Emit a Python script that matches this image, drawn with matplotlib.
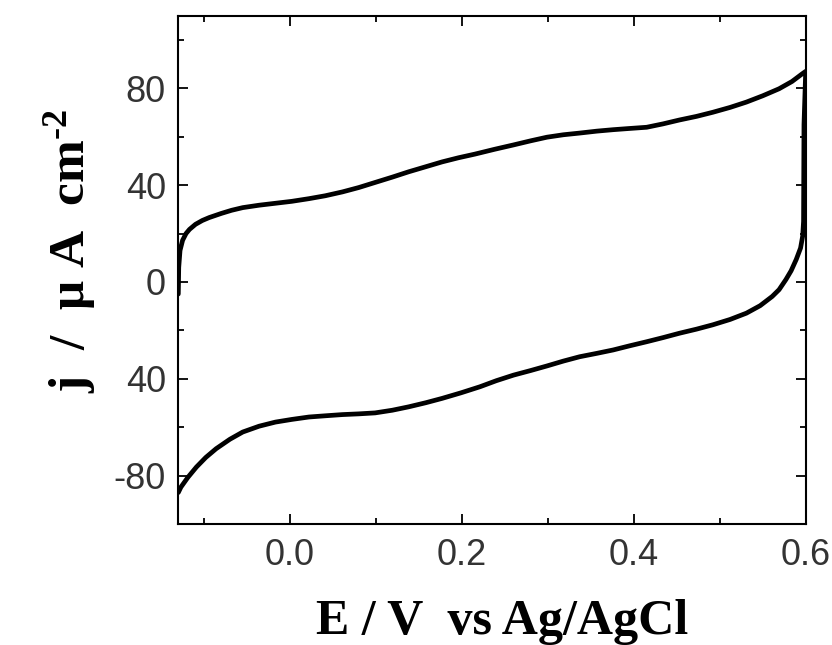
import matplotlib
matplotlib.use("Agg")
import matplotlib.pyplot as plt
from matplotlib.ticker import MultipleLocator, FixedLocator, FixedFormatter

plt.rcParams['mathtext.fontset'] = 'custom'
plt.rcParams['mathtext.rm'] = 'Liberation Serif:bold'
plt.rcParams['mathtext.bf'] = 'Liberation Serif:bold'
plt.rcParams['mathtext.it'] = 'Liberation Serif:bold'

# anodic sweep (upper branch), potential in V, current density in uA/cm2
e_fwd = [-0.130, -0.1295, -0.128, -0.125, -0.121, -0.117, -0.110, -0.102, -0.094,
         -0.080, -0.068, -0.055, -0.036, -0.017, 0.002, 0.022, 0.041, 0.061,
         0.080, 0.099, 0.119, 0.138, 0.158, 0.177, 0.196, 0.215, 0.238, 0.260,
         0.280, 0.299, 0.318, 0.337, 0.357, 0.376, 0.395, 0.415, 0.434, 0.453,
         0.473, 0.492, 0.512, 0.531, 0.550, 0.569, 0.584, 0.596, 0.600]
j_fwd = [-5, 6, 13, 17.2, 20.0, 21.7, 23.8, 25.4, 26.6,
         28.3, 29.6, 30.7, 31.7, 32.5, 33.3, 34.4, 35.6, 37.2,
         39.0, 41.1, 43.3, 45.5, 47.6, 49.6, 51.3, 52.8, 54.8, 56.6,
         58.3, 59.8, 60.8, 61.5, 62.3, 62.9, 63.4, 63.9, 65.3, 66.9,
         68.4, 70.1, 72.1, 74.3, 76.9, 79.8, 82.8, 86.0, 87.0]

# cathodic sweep (lower branch)
e_rev = [0.600, 0.598, 0.5975, 0.5965, 0.594, 0.589, 0.583, 0.577, 0.569,
         0.561, 0.547, 0.531, 0.512, 0.492, 0.473, 0.453, 0.434, 0.415,
         0.395, 0.376, 0.357, 0.337, 0.318, 0.299, 0.280, 0.260, 0.240,
         0.221, 0.199, 0.177, 0.158, 0.138, 0.119, 0.099, 0.080, 0.061,
         0.041, 0.022, 0.002, -0.017, -0.036, -0.055, -0.070, -0.086,
         -0.098, -0.109, -0.119, -0.127, -0.130]
j_rev = [87.0, 65.0, 25.0, 19.0, 14.0, 9.3, 4.6, 1.0, -3.2,
         -6.0, -9.8, -12.9, -15.5, -17.7, -19.5, -21.2, -23.0, -24.7,
         -26.4, -28.1, -29.5, -30.9, -32.7, -34.7, -36.6, -38.5, -40.8,
         -43.3, -45.8, -48.1, -49.9, -51.6, -53.0, -54.1, -54.5, -54.8,
         -55.3, -55.8, -56.8, -57.9, -59.6, -62.0, -65.0, -68.9,
         -72.5, -76.5, -80.8, -84.8, -87.0]

y_ticks = [-80, -40, 0, 40, 80]
y_tick_labels = ['-80', '40', '0', '40', '80']
x_ticks = [0.0, 0.2, 0.4, 0.6]
x_tick_labels = ['0.0', '0.2', '0.4', '0.6']

fig = plt.figure(figsize=(8.32, 6.45), dpi=100)
ax = fig.add_axes([0.2143, 0.1876, 0.7541, 0.7881])

ax.plot(e_fwd + e_rev, j_fwd + j_rev, color='black', lw=3.4,
        solid_joinstyle='round', solid_capstyle='round')

ax.set_xlim(-0.13, 0.6)
ax.set_ylim(-100, 110)

ax.xaxis.set_major_locator(FixedLocator(x_ticks))
ax.xaxis.set_major_formatter(FixedFormatter(x_tick_labels))
ax.xaxis.set_minor_locator(MultipleLocator(0.1))
ax.yaxis.set_major_locator(FixedLocator(y_ticks))
ax.yaxis.set_major_formatter(FixedFormatter(y_tick_labels))
ax.yaxis.set_minor_locator(MultipleLocator(20))

for s in ax.spines.values():
    s.set_linewidth(1.5)

ax.tick_params(which='both', direction='in', top=True, right=True, width=1.3)
ax.tick_params(which='major', length=7)
ax.tick_params(which='minor', length=4)
ax.tick_params(axis='both', which='major', labelsize=26, labelcolor='#333333')
ax.tick_params(axis='y', pad=9)
ax.tick_params(axis='x', pad=10)
for lab in ax.get_xticklabels() + ax.get_yticklabels():
    lab.set_family('Liberation Sans')

ax.set_xlabel('E / V  vs Ag/AgCl', family='Liberation Serif', fontweight='bold',
              fontsize=36, labelpad=19)
ax.xaxis.label.set_x(0.5155)
ax.set_ylabel('j  /  \u03bc A  cm$^{\u2010\\mathbf{2}}$', family='Liberation Serif',
              fontweight='bold', fontsize=37)
ax.yaxis.set_label_coords(-0.128, 0.537)

fig.savefig('out.png', dpi=100)
